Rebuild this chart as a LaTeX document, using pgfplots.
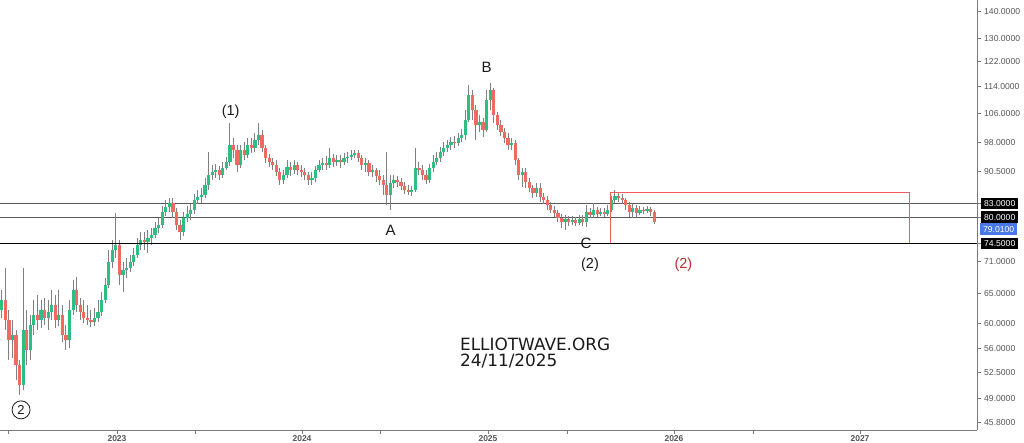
\documentclass[border=0pt]{standalone}
\usepackage{pgfplots}
\pgfplotsset{compat=1.18}
\usepackage{pgfplotstable}
\usepackage{fontspec}
\setmainfont{Liberation Sans}
\newfontfamily\dejavu{DejaVu Sans}
\definecolor{upc}{HTML}{2DBE82}
\definecolor{dnc}{HTML}{F06A62}
\definecolor{wickc}{HTML}{808080}
\definecolor{axc}{HTML}{7A7A7A}
\definecolor{tickc}{HTML}{555555}
\definecolor{boxred}{HTML}{F25C5C}
\definecolor{darkred}{HTML}{C0282D}
\definecolor{curblue}{HTML}{4A78E6}
\definecolor{labc}{HTML}{1A1A1A}

\pgfplotstableread{
w o h l c
0 62.18 65.66 60.86 63.91
1 63.91 69.70 58.90 60.53
2 60.53 62.18 54.30 57.33
3 57.33 60.53 54.60 58.12
4 58.12 58.90 51.43 53.58
5 53.58 54.30 49.39 50.75
6 50.75 69.70 50.06 58.90
7 58.90 62.18 53.58 55.80
8 55.80 61.37 54.30 59.72
9 59.72 63.91 58.12 61.37
10 61.37 64.79 58.90 60.53
11 60.53 63.91 59.23 62.18
12 62.18 64.26 59.72 60.86
13 60.86 63.91 58.90 61.87
14 61.87 65.66 60.53 63.05
15 63.05 64.79 59.23 60.53
16 60.53 65.66 59.56 61.37
17 61.37 63.05 57.04 58.12
18 58.12 59.72 55.80 57.33
19 57.33 63.91 56.11 62.18
20 62.18 67.47 61.37 65.66
21 65.66 68.03 61.87 63.05
22 63.05 64.26 60.53 61.87
23 61.87 63.91 60.05 60.86
24 60.86 63.05 59.72 60.53
25 60.53 62.18 59.40 60.22
26 60.22 62.53 59.56 60.86
27 60.86 63.91 60.22 61.87
28 61.87 65.32 61.20 63.91
29 63.91 67.84 63.39 66.57
30 66.57 73.18 66.03 70.86
31 70.86 75.19 69.70 73.18
32 73.18 80.93 71.61 74.20
33 74.20 75.19 66.57 68.40
34 68.40 70.86 65.32 69.31
35 69.31 71.61 67.84 69.70
36 69.70 72.21 68.96 70.86
37 70.86 73.59 70.09 72.21
38 72.21 75.61 71.61 74.20
39 74.20 76.86 73.18 75.19
40 75.19 76.86 73.18 74.81
41 74.81 77.26 72.60 75.61
42 75.61 77.69 74.20 76.23
43 76.23 78.98 75.61 77.69
44 77.69 79.83 76.65 78.33
45 78.33 82.48 77.69 81.15
46 81.15 83.81 80.27 82.25
47 82.25 84.28 81.15 83.16
48 83.16 84.28 79.83 81.15
49 81.15 82.02 77.26 78.33
50 78.33 79.39 75.19 76.86
51 76.86 81.15 76.02 79.83
52 79.83 82.48 78.98 80.71
53 80.71 82.93 79.39 81.57
54 81.57 85.21 80.71 83.81
55 83.81 86.12 82.93 84.51
56 84.51 86.60 83.16 84.98
57 84.98 88.98 84.28 87.31
58 87.31 95.49 86.12 89.72
59 89.72 92.18 88.49 90.45
60 90.45 92.43 88.98 90.92
61 90.92 91.93 88.49 89.72
62 89.72 92.94 88.98 91.43
63 91.43 94.20 90.92 92.94
64 92.94 103.31 91.93 97.32
65 97.32 99.17 93.94 95.99
66 95.99 97.32 90.45 92.18
67 92.18 97.32 91.43 95.99
68 95.99 98.12 93.42 94.71
69 94.71 99.17 93.94 97.32
70 97.32 99.17 95.23 96.52
71 96.52 100.54 95.49 98.62
72 98.62 103.31 97.32 99.99
73 99.99 101.34 95.49 96.52
74 96.52 97.32 92.69 93.94
75 93.94 94.97 91.68 92.94
76 92.94 93.94 90.92 92.18
77 92.18 93.42 89.47 90.45
78 90.45 91.43 87.31 88.49
79 88.49 90.92 87.55 89.72
80 89.72 93.42 88.98 91.68
81 91.68 92.94 89.47 90.92
82 90.92 93.42 89.96 92.18
83 92.18 92.94 89.72 90.92
84 90.92 92.18 89.22 90.45
85 90.45 91.43 88.49 89.72
86 89.72 90.45 87.31 88.49
87 88.49 90.45 87.31 88.98
88 88.98 91.93 88.03 90.92
89 90.92 93.42 90.45 92.18
90 92.18 93.94 90.92 92.69
91 92.69 94.46 90.92 92.18
92 92.18 96.52 91.43 93.94
93 93.94 94.97 91.68 92.94
94 92.94 94.71 91.93 93.42
95 93.42 94.71 91.43 92.94
96 92.94 95.23 92.18 93.94
97 93.94 95.49 92.69 94.20
98 94.20 95.99 93.42 94.71
99 94.71 95.99 93.94 95.23
100 95.23 95.99 92.94 93.94
101 93.94 94.71 90.92 92.18
102 92.18 93.94 90.45 92.69
103 92.69 93.42 89.47 90.45
104 90.45 92.18 89.22 90.92
105 90.92 91.43 88.03 89.47
106 89.47 90.92 87.31 88.49
107 88.49 89.72 84.98 87.31
108 87.31 95.49 82.70 84.98
109 84.98 89.72 81.57 87.79
110 87.79 89.72 86.60 88.49
111 88.49 89.47 86.84 88.03
112 88.03 88.98 86.12 87.07
113 87.07 88.03 85.21 86.12
114 86.12 87.31 84.98 85.68
115 85.68 87.07 84.74 86.12
116 86.12 96.52 85.68 91.43
117 91.43 92.94 89.72 90.92
118 90.92 92.18 88.49 89.72
119 89.72 90.92 87.55 88.49
120 88.49 92.43 87.79 91.43
121 91.43 94.71 90.45 92.94
122 92.94 95.49 92.18 93.94
123 93.94 96.79 92.94 95.49
124 95.49 98.12 94.46 96.52
125 96.52 98.62 95.49 97.32
126 97.32 99.45 95.99 98.12
127 98.12 99.72 96.52 97.86
128 97.86 100.54 97.06 99.17
129 99.17 101.62 98.12 99.99
130 99.99 107.00 98.62 104.13
131 104.13 114.53 103.59 111.46
132 111.46 112.97 104.13 107.00
133 107.00 108.48 98.62 102.75
134 102.75 105.57 100.82 103.59
135 103.59 104.71 99.45 101.34
136 101.34 112.97 100.82 109.94
137 109.94 115.15 107.00 112.97
138 112.97 113.59 103.31 105.57
139 105.57 106.44 101.34 102.75
140 102.75 104.13 99.72 100.82
141 100.82 101.90 97.86 99.17
142 99.17 100.54 95.99 97.32
143 97.32 99.17 95.99 97.86
144 97.86 98.62 92.18 93.42
145 93.42 93.94 88.49 89.72
146 89.72 91.43 86.84 90.45
147 90.45 91.43 86.60 88.03
148 88.03 88.98 85.68 86.60
149 86.60 87.31 84.28 85.44
150 85.44 87.79 84.51 86.60
151 86.60 87.79 83.38 84.51
152 84.51 85.44 82.93 83.81
153 83.81 84.74 81.57 82.70
154 82.70 83.38 80.93 81.57
155 81.57 82.48 80.05 80.93
156 80.93 81.57 78.98 79.83
157 79.83 80.71 77.69 78.98
158 78.98 80.49 77.26 79.61
159 79.61 80.27 78.12 78.98
160 78.98 80.27 78.33 79.39
161 79.39 80.05 78.12 78.76
162 78.76 80.49 78.33 79.61
163 79.61 80.49 78.12 78.98
164 78.98 82.70 77.90 81.15
165 81.15 82.02 79.83 80.49
166 80.49 83.16 79.83 81.57
167 81.57 82.25 80.05 80.71
168 80.71 82.02 80.27 81.15
169 81.15 82.02 80.05 80.71
170 80.71 82.70 80.27 81.57
171 81.57 84.74 81.15 83.81
172 83.81 86.12 83.16 84.74
173 84.74 85.68 83.38 84.28
174 84.28 85.21 82.93 83.81
175 83.81 84.28 81.57 82.70
176 82.70 83.38 80.05 81.15
177 81.15 82.93 79.83 82.02
178 82.02 82.70 80.05 80.93
179 80.93 82.48 80.49 81.57
180 81.57 82.25 80.71 81.37
181 81.37 82.48 80.93 81.79
182 81.79 82.25 80.27 81.15
183 81.15 81.57 78.55 79.01
}\candles

\begin{document}
\begin{tikzpicture}
\useasboundingbox (0,-13bp) rectangle (1024bp,430bp);
\begin{axis}[
  at={(0,0)}, anchor=south west,
  scale only axis, width=977bp, height=430bp,
  xmin=-0.505, xmax=273.55,
  ymode=log, ymin=44.91, ymax=144.24,
  axis x line*=bottom, axis y line*=right,
  axis line style={draw=axc, line width=0.8bp},
  clip mode=individual,
  tick align=outside,
  major tick length=4bp,
  tick style={draw=axc, line width=0.6bp},
  xtick={32.31,84.21,136.38,188.55,240.73},
  xticklabels={2023,2024,2025,2026,2027},
  extra x ticks={1.74,54.19,106.09,158.54,210.67},
  extra x tick labels={},
  xticklabel style={font=\fontsize{8.5bp}{9bp}\selectfont\bfseries, text=tickc, inner sep=1bp},
  ytick={140,130,122,114,106,98,90.5,71,65,60,56,52.5,49,45.8},
  yticklabels={140.0000,130.0000,122.0000,114.0000,106.0000,98.0000,90.5000,71.0000,65.0000,60.0000,56.0000,52.5000,49.0000,45.8000},
  yminorticks=false,
  yticklabel style={font=\fontsize{8.6bp}{10bp}\selectfont, text=tickc, anchor=west, inner xsep=3bp, inner ysep=2.5bp, text height=6.4bp, text depth=0bp},
  extra y ticks={83,80,74.5},
  extra y tick labels={83.0000,80.0000,74.5000},
  extra y tick style={yticklabel style={fill=black, text=white}},
  candle/.style={draw=none, mark=none, forget plot,
    error bars/y dir=minus, error bars/y explicit, error bars/error mark=none},
]
% horizontal levels
\addplot[forget plot, draw=black!65, line width=0.9bp] coordinates {(-0.505,83) (273.55,83)};
\addplot[forget plot, draw=black!65, line width=0.9bp] coordinates {(-0.505,80) (273.55,80)};
% wicks
\addplot[candle, error bars/error bar style={draw=wickc, line width=1bp}]
  table[x=w, y=h, y error minus expr={\thisrow{h}-\thisrow{l}}] {\candles};
% up bodies
\addplot[candle, x filter/.expression={\thisrow{c}>\thisrow{o} ? x : nan},
  error bars/error bar style={draw=upc, line width=3.2bp}]
  table[x=w, y=c, y error minus expr={\thisrow{c}-\thisrow{o}}] {\candles};
% down bodies
\addplot[candle, x filter/.expression={\thisrow{c}<\thisrow{o} ? x : nan},
  error bars/error bar style={draw=dnc, line width=3.2bp}]
  table[x=w, y=o, y error minus expr={\thisrow{o}-\thisrow{c}}] {\candles};
% support line and target box
\addplot[forget plot, draw=black, line width=1.8bp] coordinates {(-0.505,74.5) (273.55,74.5)};
\addplot[forget plot, draw=boxred, line width=0.9bp] coordinates {(170.6,74.5) (170.6,85.5) (254.5,85.5) (254.5,74.5)};
% labels
\node[font=\fontsize{14.5bp}{16bp}\selectfont, text=labc] at (axis cs:64.2,106.5) {(1)};
\node[font=\fontsize{15bp}{16bp}\selectfont, text=labc] at (axis cs:136.0,120.3) {B};
\node[font=\fontsize{15bp}{16bp}\selectfont, text=labc] at (axis cs:109.1,77.3) {A};
\node[font=\fontsize{15bp}{16bp}\selectfont, text=labc] at (axis cs:163.9,74.6) {C};
\node[font=\fontsize{14.5bp}{16bp}\selectfont, text=labc] at (axis cs:165.0,70.4) {(2)};
\node[font=\fontsize{14.5bp}{16bp}\selectfont, text=darkred] at (axis cs:191.2,70.4) {(2)};
\node[circle, draw=labc, line width=0.8bp, inner sep=0pt, minimum size=18bp, font=\fontsize{13bp}{14bp}\selectfont, text=labc] at (axis cs:5.4,47.43) {2};
\node[anchor=base west, inner sep=0pt, font=\dejavu\fontsize{16.9bp}{18bp}\selectfont, text=labc] at (axis cs:128.5,55.66) {ELLIOTWAVE.ORG};
\node[anchor=base west, inner sep=0pt, font=\dejavu\fontsize{16.9bp}{18bp}\selectfont, text=labc] at (axis cs:128.5,53.29) {24/11/2025};
% current price tag
\node[anchor=west, fill=curblue, text=white, inner xsep=3bp, inner ysep=2.5bp, text height=6.4bp, text depth=0bp, font=\fontsize{8.6bp}{10bp}\selectfont] at (rel axis cs:1.003,0.4674) {79.0100};
\end{axis}
\end{tikzpicture}
\end{document}
